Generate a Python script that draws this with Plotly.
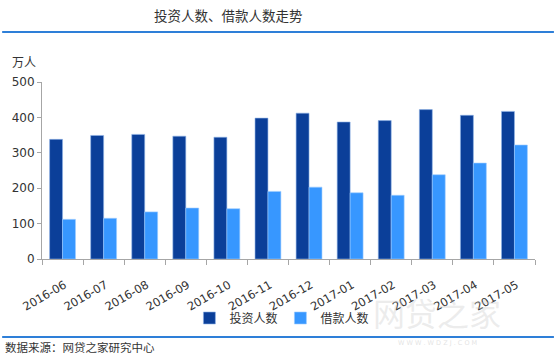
import plotly.graph_objects as go

months = ["2016-06", "2016-07", "2016-08", "2016-09", "2016-10", "2016-11",
          "2016-12", "2017-01", "2017-02", "2017-03", "2017-04", "2017-05"]
investors = [338, 349, 352, 347, 344, 398, 412, 387, 391, 422, 406, 417]
borrowers = [112, 115, 133, 144, 142, 191, 203, 187, 180, 238, 271, 322]
y_ticks = [0, 100, 200, 300, 400, 500]

CJK = "Noto Sans CJK SC"
LAT = "DejaVu Sans"

fig = go.Figure()
fig.add_trace(go.Bar(x=months, y=investors, name="投资人数",
                     marker=dict(color="#0B3F99", line=dict(color="#8FB4E8", width=0.6))))
fig.add_trace(go.Bar(x=months, y=borrowers, name="借款人数",
                     marker=dict(color="#3797FF", line=dict(color="#9CCBFF", width=0.6))))

L, R, T, B = 40, 19, 82, 96
W, H = 554, 355
ph = H - T - B

def py(ypix):
    return (H - B - ypix) / ph

def px(xpix):
    return (xpix - L) / (W - L - R)

fig.update_layout(
    width=W, height=H,
    margin=dict(l=L, r=R, t=T, b=B),
    paper_bgcolor="white", plot_bgcolor="white",
    barmode="group", bargap=0.37, bargroupgap=0,
    showlegend=True,
    legend=dict(orientation="h", x=px(188), xanchor="left", y=py(318), yanchor="middle",
                font=dict(family=CJK, size=12, color="#333333"),
                itemwidth=30, entrywidth=46, entrywidthmode="pixels",
                tracegroupgap=0, traceorder="normal", bgcolor="rgba(0,0,0,0)"),
    xaxis=dict(type="category", showline=True, linecolor="#A6A6A6", linewidth=1,
               ticks="outside", ticklen=5, tickcolor="#A6A6A6", tickson="boundaries",
               tickangle=-30, ticklabelstandoff=14, ticklabelshift=2,
               tickfont=dict(family=LAT, size=11.5, color="#333333"),
               showgrid=False),
    yaxis=dict(range=[0, 500], tickvals=y_ticks, showline=True, linecolor="#A6A6A6",
               linewidth=1, ticks="outside", ticklen=4, tickcolor="#A6A6A6",
               tickfont=dict(family=LAT, size=12, color="#333333"), showgrid=False,
               zeroline=False),
)

# header and footer rules
for yp in (32, 337):
    fig.add_shape(type="line", xref="paper", yref="paper",
                  x0=px(0), x1=px(W), y0=py(yp), y1=py(yp),
                  line=dict(color="#2E7FD8", width=2))

fig.add_annotation(text="投资人数、借款人数走势", xref="paper", yref="paper",
                   x=px(227), y=py(15), xanchor="center", yanchor="middle", showarrow=False,
                   font=dict(family=CJK, size=13.5, color="#333333"))
fig.add_annotation(text="万人", xref="paper", yref="paper",
                   x=px(8), y=py(62), xanchor="left", yanchor="middle", showarrow=False,
                   font=dict(family=CJK, size=12, color="#333333"))
fig.add_annotation(text="数据来源：网贷之家研究中心", xref="paper", yref="paper",
                   x=px(1), y=py(347), xanchor="left", yanchor="middle", showarrow=False,
                   font=dict(family=CJK, size=11.5, color="#333333"))
# faint watermark
fig.add_annotation(text="网贷之家", xref="paper", yref="paper",
                   x=px(437), y=py(312), xanchor="center", yanchor="middle", showarrow=False,
                   font=dict(family=CJK, size=32, color="rgba(200,200,200,0.35)"))
fig.add_annotation(text="W W W . W D Z J . C O M", xref="paper", yref="paper",
                   x=px(437), y=py(343), xanchor="center", yanchor="middle", showarrow=False,
                   font=dict(family=LAT, size=6.5, color="rgba(200,200,200,0.5)"))

fig.write_html("out.html", config={"displayModeBar": False},
               post_script="document.body.style.margin='0';")
